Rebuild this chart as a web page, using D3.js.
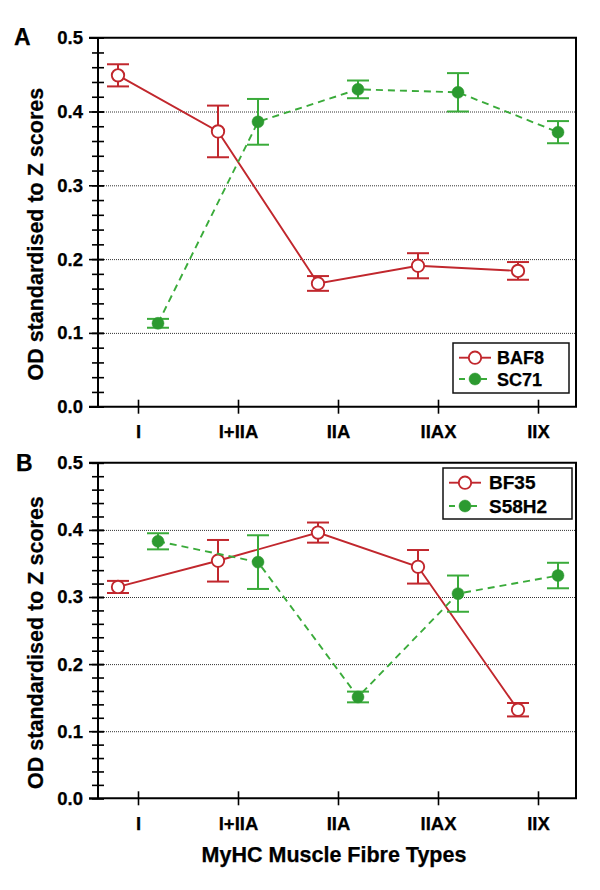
<!DOCTYPE html>
<html>
<head>
<meta charset="utf-8">
<script src="https://cdn.jsdelivr.net/npm/d3@7"></script>
<style>
    html, body { margin: 0; padding: 0; background: #fff; }
    svg text { font-family: "Liberation Sans", Arial, sans-serif; font-weight: bold; fill: #000; stroke: #000; stroke-width: 0.25px; }
</style>
</head>
<body>
<div id="chart"></div>
<script>
"use strict";

// ------------------------- Data -------------------------

const fibreTypes = ['I', 'I+IIA', 'IIA', 'IIAX', 'IIX'];

// Panel A
const baf8Means = [0.449, 0.373, 0.167, 0.191, 0.184];
const baf8Errors = [0.015, 0.035, 0.010, 0.017, 0.012];
const sc71Means = [0.113, 0.386, 0.430, 0.426, 0.372];
const sc71Errors = [0.006, 0.031, 0.012, 0.026, 0.015];

// Panel B
const bf35Means = [0.315, 0.354, 0.396, 0.345, 0.132];
const bf35Errors = [0.009, 0.031, 0.015, 0.025, 0.010];
const s58h2Means = [0.383, 0.352, 0.151, 0.305, 0.332];
const s58h2Errors = [0.012, 0.040, 0.008, 0.027, 0.019];

const majorTicks = [0, 0.1, 0.2, 0.3, 0.4, 0.5];
const gridTicks = [0.1, 0.2, 0.3, 0.4];

const RED = '#c1272d';
const GREEN_LINE = '#3aab3a';
const GREEN_DOT = '#2c9a30';

const left = 98;
const right = 576;

const svg = d3.select('#chart')
    .append('svg')
    .attr('width', 600)
    .attr('height', 890);

drawPanel(svg, {
    letter: 'A', letterX: 14, letterY: 45,
    top: 37.7, bottom: 406.7,
    series: [
        { name: 'BAF8', means: baf8Means, errors: baf8Errors, open: true, offset: -20 },
        { name: 'SC71', means: sc71Means, errors: sc71Errors, open: false, offset: 20 }
    ],
    legend: { x: 453, y: 343, w: 116, h: 50, markerX: 475, textX: 497, rows: [357.7, 379], fontSize: 18 }
});

drawPanel(svg, {
    letter: 'B', letterX: 16, letterY: 471,
    top: 462.8, bottom: 798.3,
    series: [
        { name: 'BF35', means: bf35Means, errors: bf35Errors, open: true, offset: -20 },
        { name: 'S58H2', means: s58h2Means, errors: s58h2Errors, open: false, offset: 20 }
    ],
    legend: { x: 443, y: 468, w: 129, h: 51, markerX: 465, textX: 489, rows: [482.7, 506], fontSize: 19 }
});

svg.append('text')
    .attr('x', 334)
    .attr('y', 862)
    .attr('text-anchor', 'middle')
    .style('font-size', '21.5px')
    .text('MyHC Muscle Fibre Types');


// ------------------------- Panel -------------------------

function drawPanel(svg, cfg) {
    const y = d3.scaleLinear().domain([0, 0.5]).range([cfg.bottom, cfg.top]);
    const x = d3.scalePoint().domain(fibreTypes).range([138, 538]);

    const g = svg.append('g');

    // dotted grid lines
    g.append('g')
        .attr('transform', `translate(${left},0)`)
        .call(d3.axisLeft(y).tickValues(gridTicks).tickSize(-(right - left)).tickFormat(''))
        .call(a => a.select('.domain').remove())
        .selectAll('.tick line')
        .attr('stroke', '#333')
        .attr('stroke-width', 1)
        .attr('stroke-dasharray', '1,1');

    // minor ticks crossing the axis
    g.append('g')
        .attr('transform', `translate(${left},0)`)
        .call(d3.axisLeft(y).tickValues(y.ticks(20)).tickSize(6).tickFormat(''))
        .call(a => a.select('.domain').remove())
        .selectAll('.tick line')
        .attr('x1', 6)
        .attr('stroke-width', 1.6);

    // major ticks with labels
    g.append('g')
        .attr('transform', `translate(${left},0)`)
        .call(d3.axisLeft(y).tickValues(majorTicks).tickSize(9).tickPadding(6).tickFormat(d3.format('.1f')))
        .call(a => a.select('.domain').remove())
        .call(a => a.selectAll('.tick line').attr('x1', 6).attr('stroke-width', 1.6))
        .selectAll('text')
        .style('font-size', '18.5px')
        .style('font-family', '"Liberation Sans", Arial, sans-serif')
        .style('font-weight', 'bold');

    // category axis
    g.append('g')
        .attr('transform', `translate(0,${cfg.bottom})`)
        .call(d3.axisBottom(x).tickSize(7).tickPadding(11.5))
        .call(a => a.select('.domain').remove())
        .call(a => a.selectAll('.tick line').attr('y1', -7).attr('stroke-width', 1.6))
        .selectAll('text')
        .style('font-size', '18.5px')
        .style('font-family', '"Liberation Sans", Arial, sans-serif')
        .style('font-weight', 'bold');

    // frame
    g.append('path')
        .attr('d', `M${left - 9},${cfg.top}H${right}V${cfg.bottom}H${left - 9}M${left},${cfg.top}V${cfg.bottom}`)
        .attr('fill', 'none')
        .attr('stroke', '#000')
        .attr('stroke-width', 2);

    cfg.series.forEach(s => drawSeries(g, s, x, y));

    drawLegend(g, cfg);

    g.append('text')
        .attr('x', cfg.letterX)
        .attr('y', cfg.letterY)
        .style('font-size', '23px')
        .text(cfg.letter);

    // axis title sits a little below the panel centre
    const mid = (cfg.top + cfg.bottom) / 2 + 12;
    g.append('text')
        .attr('transform', `translate(43,${mid}) rotate(-90)`)
        .attr('text-anchor', 'middle')
        .style('font-size', '21.5px')
        .text('OD standardised to Z scores');
}

function drawSeries(g, s, x, y) {
    const points = fibreTypes.map((t, i) => ({
        x: x(t) + s.offset, mean: s.means[i], err: s.errors[i]
    }));
    const color = s.open ? RED : GREEN_LINE;

    g.append('path')
        .datum(points)
        .attr('fill', 'none')
        .attr('stroke', color)
        .attr('stroke-width', 1.9)
        .attr('stroke-dasharray', s.open ? null : '7,5')
        .attr('d', d3.line().x(p => p.x).y(p => y(p.mean)));

    const bars = g.append('g')
        .attr('stroke', color)
        .attr('stroke-width', 2)
        .selectAll('g')
        .data(points)
        .enter()
        .append('g');

    bars.append('line')
        .attr('x1', p => p.x).attr('x2', p => p.x)
        .attr('y1', p => y(p.mean - p.err)).attr('y2', p => y(p.mean + p.err));
    bars.append('line')
        .attr('x1', p => p.x - 11).attr('x2', p => p.x + 11)
        .attr('y1', p => y(p.mean + p.err)).attr('y2', p => y(p.mean + p.err));
    bars.append('line')
        .attr('x1', p => p.x - 11).attr('x2', p => p.x + 11)
        .attr('y1', p => y(p.mean - p.err)).attr('y2', p => y(p.mean - p.err));

    g.append('g')
        .selectAll('circle')
        .data(points)
        .enter()
        .append('circle')
        .attr('cx', p => p.x)
        .attr('cy', p => y(p.mean))
        .call(marker, s.open);
}

function marker(selection, open) {
    selection
        .attr('r', open ? 6.2 : 6)
        .attr('fill', open ? '#fff' : GREEN_DOT)
        .attr('stroke', open ? RED : GREEN_DOT)
        .attr('stroke-width', open ? 1.9 : 0.5);
}


// ------------------------- Legend -------------------------

function drawLegend(g, cfg) {
    const L = cfg.legend;
    const lg = g.append('g');

    lg.append('rect')
        .attr('x', L.x).attr('y', L.y)
        .attr('width', L.w).attr('height', L.h)
        .attr('fill', '#fff')
        .attr('stroke', '#111')
        .attr('stroke-width', 1.5);

    cfg.series.forEach((s, i) => {
        const cy = L.rows[i];
        lg.append('line')
            .attr('x1', L.markerX - 16).attr('x2', L.markerX + 16)
            .attr('y1', cy).attr('y2', cy)
            .attr('stroke', s.open ? RED : GREEN_LINE)
            .attr('stroke-width', 1.9)
            .attr('stroke-dasharray', s.open ? null : '6,5');
        lg.append('circle')
            .attr('cx', L.markerX)
            .attr('cy', cy)
            .call(marker, s.open);
        lg.append('text')
            .attr('x', L.textX)
            .attr('y', cy + 6.5)
            .style('font-size', L.fontSize + 'px')
            .text(s.name);
    });
}
</script>
</body>
</html>
